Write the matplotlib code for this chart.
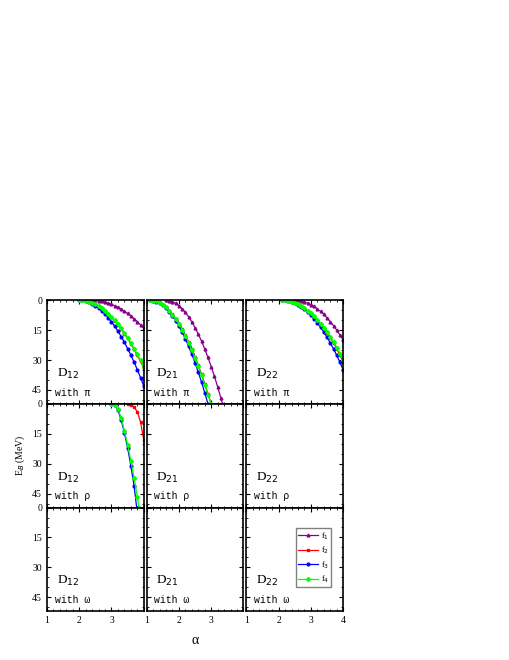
import numpy as np
import matplotlib.pyplot as plt
from matplotlib.ticker import MultipleLocator, FuncFormatter

plt.rcParams['font.family'] = ['Liberation Serif', 'DejaVu Serif']

# D12 with pi
a1_f1 = [2.4, 2.5, 2.6, 2.7, 2.8, 2.9, 3.0, 3.1, 3.2, 3.3, 3.4, 3.5, 3.6, 3.7, 3.8, 3.9, 4.0]
e1_f1 = [0, 0.05, 0.2, 0.5, 0.9, 1.4, 2.0, 2.7, 3.5, 4.4, 5.5, 6.6, 7.9, 9.2, 10.7, 12.3, 14.0]
a1_f2 = [2.0, 2.1, 2.2, 2.3, 2.4, 2.5, 2.6, 2.7, 2.8, 2.9, 3.0, 3.1, 3.2, 3.3, 3.4, 3.5, 3.6, 3.7, 3.8, 3.9, 4.0]
e1_f2 = [0, 0.1, 0.3, 0.8, 1.4, 2.1, 3.1, 4.2, 5.5, 6.9, 8.5, 10.3, 12.2, 14.4, 16.7, 19.1, 21.8, 24.6, 27.6, 30.7, 34.0]
e1_f3 = [0, 0.1, 0.4, 1.0, 1.7, 2.7, 3.9, 5.3, 6.9, 8.7, 10.8, 13.0, 15.5, 18.2, 21.1, 24.2, 27.5, 31.0, 34.8, 38.8, 43.0]
e1_f4 = [0, 0.1, 0.3, 0.8, 1.4, 2.1, 3.0, 4.1, 5.4, 6.8, 8.4, 10.1, 12.0, 14.1, 16.4, 18.8, 21.4, 24.2, 27.1, 30.2, 33.4]

# D21 with pi
a2_f1 = [1.6, 1.7, 1.8, 1.9, 2.0, 2.1, 2.2, 2.3, 2.4, 2.5, 2.6, 2.7, 2.8, 2.9, 3.0, 3.1, 3.2, 3.3, 3.35]
e2_f1 = [0, 0.2, 0.7, 1.5, 2.7, 4.2, 6.1, 8.3, 10.9, 13.7, 17.0, 20.5, 24.5, 28.7, 33.3, 38.2, 43.5, 49.1, 52]
a2_f2 = [1.1, 1.2, 1.3, 1.4, 1.5, 1.6, 1.7, 1.8, 1.9, 2.0, 2.1, 2.2, 2.3, 2.4, 2.5, 2.6, 2.7, 2.8, 2.9, 3.0]
e2_f2 = [0, 0.2, 0.6, 1.3, 2.3, 3.6, 5.2, 7.1, 9.3, 11.7, 14.5, 17.5, 20.9, 24.5, 28.4, 32.6, 37.1, 41.9, 46.9, 52]
a2_f3 = [1.1, 1.2, 1.3, 1.4, 1.5, 1.6, 1.7, 1.8, 1.9, 2.0, 2.1, 2.2, 2.3, 2.4, 2.5, 2.6, 2.7, 2.8, 2.9]
e2_f3 = [0, 0.2, 0.7, 1.5, 2.6, 4.0, 5.8, 7.9, 10.3, 13.0, 16.1, 19.4, 23.1, 27.1, 31.5, 36.1, 41.1, 46.4, 52]
e2_f4 = [0, 0.2, 0.6, 1.3, 2.3, 3.6, 5.3, 7.2, 9.4, 11.9, 14.7, 17.8, 21.2, 24.9, 28.9, 33.1, 37.7, 42.5, 47.5, 52]

# D22 with pi
a3_f1 = [2.5, 2.6, 2.7, 2.8, 2.9, 3.0, 3.1, 3.2, 3.3, 3.4, 3.5, 3.6, 3.7, 3.8, 3.9, 4.0]
e3_f1 = [0, 0.1, 0.4, 0.8, 1.4, 2.2, 3.1, 4.3, 5.6, 7.1, 8.8, 10.7, 12.8, 15.0, 17.4, 20.0]
a3_f2 = [2.1, 2.2, 2.3, 2.4, 2.5, 2.6, 2.7, 2.8, 2.9, 3.0, 3.1, 3.2, 3.3, 3.4, 3.5, 3.6, 3.7, 3.8, 3.9, 4.0]
e3_f2 = [0, 0.1, 0.3, 0.8, 1.4, 2.1, 3.0, 4.1, 5.3, 6.7, 8.3, 10.0, 11.9, 14.0, 16.3, 18.7, 21.4, 24.3, 27.5, 31.0]
e3_f3 = [0, 0.1, 0.4, 0.9, 1.6, 2.4, 3.4, 4.6, 6.0, 7.6, 9.4, 11.4, 13.6, 16.0, 18.6, 21.4, 24.4, 27.7, 31.2, 35.0]
e3_f4 = [0, 0.1, 0.3, 0.8, 1.3, 2.0, 2.9, 4.0, 5.2, 6.6, 8.1, 9.8, 11.7, 13.7, 15.9, 18.3, 20.9, 23.7, 26.7, 30.0]

# D12 with rho
a4_f2 = [3.5, 3.6, 3.7, 3.8, 3.9, 4.0]
e4_f2 = [0, 0.4, 1.5, 4.0, 9.0, 18.0]
a4_f3 = [3.0, 3.1, 3.2, 3.3, 3.4, 3.5, 3.6, 3.7, 3.78]
e4_f3 = [0, 0.6, 3.0, 8.0, 14.5, 22.0, 31.0, 41.0, 52]
a4_f4 = [3.0, 3.1, 3.2, 3.3, 3.4, 3.5, 3.6, 3.7, 3.8, 3.85]
e4_f4 = [0, 0.5, 2.5, 7.0, 13.5, 20.5, 28.5, 37.0, 46.5, 52]

colors = {'f1': '#8b008b', 'f2': '#ff0000', 'f3': '#0000ff', 'f4': '#00ff00'}
markers = {'f1': '^', 'f2': 's', 'f3': 'o', 'f4': 'D'}

panel_data = {
    (0, 0): [('f1', a1_f1, e1_f1), ('f2', a1_f2, e1_f2), ('f3', a1_f2, e1_f3), ('f4', a1_f2, e1_f4)],
    (0, 1): [('f1', a2_f1, e2_f1), ('f2', a2_f2, e2_f2), ('f3', a2_f3, e2_f3), ('f4', a2_f2, e2_f4)],
    (0, 2): [('f1', a3_f1, e3_f1), ('f2', a3_f2, e3_f2), ('f3', a3_f2, e3_f3), ('f4', a3_f2, e3_f4)],
    (1, 0): [('f2', a4_f2, e4_f2), ('f3', a4_f3, e4_f3), ('f4', a4_f4, e4_f4)],
}
names = ['D$_{12}$', 'D$_{21}$', 'D$_{22}$']
mesons = ['with \u03c0', 'with \u03c1', 'with \u03c9']

fig, axes = plt.subplots(3, 3, figsize=(5.1, 6.6), dpi=100)
fig.subplots_adjust(left=0.092, right=0.673, top=0.545, bottom=0.074, wspace=0.03, hspace=0.0)

for r in range(3):
    for c in range(3):
        ax = axes[r, c]
        for key, a, e in panel_data.get((r, c), []):
            ax.plot(a, e, color=colors[key], marker=markers[key], ms=2, lw=0.9, label=key)
        ax.set_xlim(1, 4)
        ax.set_ylim(52, 0)
        ax.xaxis.set_major_locator(MultipleLocator(1))
        ax.xaxis.set_minor_locator(MultipleLocator(0.2))
        ax.yaxis.set_major_locator(MultipleLocator(15))
        ax.yaxis.set_minor_locator(MultipleLocator(5))
        ax.tick_params(which='both', direction='in', top=True, right=True, labelsize=7)
        ax.tick_params(which='major', length=3)
        ax.tick_params(which='minor', length=1.5)
        if r < 2:
            ax.tick_params(labelbottom=False)
        elif c < 2:
            ax.xaxis.set_major_formatter(FuncFormatter(lambda v, p: '' if v > 3.5 else '%d' % v))
        if c > 0:
            ax.tick_params(labelleft=False)
        for s in ax.spines.values():
            s.set_linewidth(1.2)
        ax.text(0.1, 0.26, names[c], transform=ax.transAxes, fontsize=9.5)
        ax.text(0.08, 0.08, mesons[r], transform=ax.transAxes, fontsize=7,
                family=['Liberation Mono', 'DejaVu Sans Mono'])

handles = [plt.Line2D([], [], color=colors[k], marker=markers[k], ms=2, lw=0.9) for k in colors]
axes[2, 2].legend(handles, ['f$_1$', 'f$_2$', 'f$_3$', 'f$_4$'], loc='upper right',
                  bbox_to_anchor=(0.92, 0.84), fontsize=6, fancybox=False, edgecolor='gray',
                  handlelength=2.3, borderpad=0.25, labelspacing=0.35, handletextpad=0.4,
                  framealpha=1)

fig.text(0.5 * (0.092 + 0.673), 0.025, '\u03b1', ha='center', fontsize=10)
axes[1, 0].set_ylabel('E$_B$ (MeV)', fontsize=7)

plt.savefig('out.png')
